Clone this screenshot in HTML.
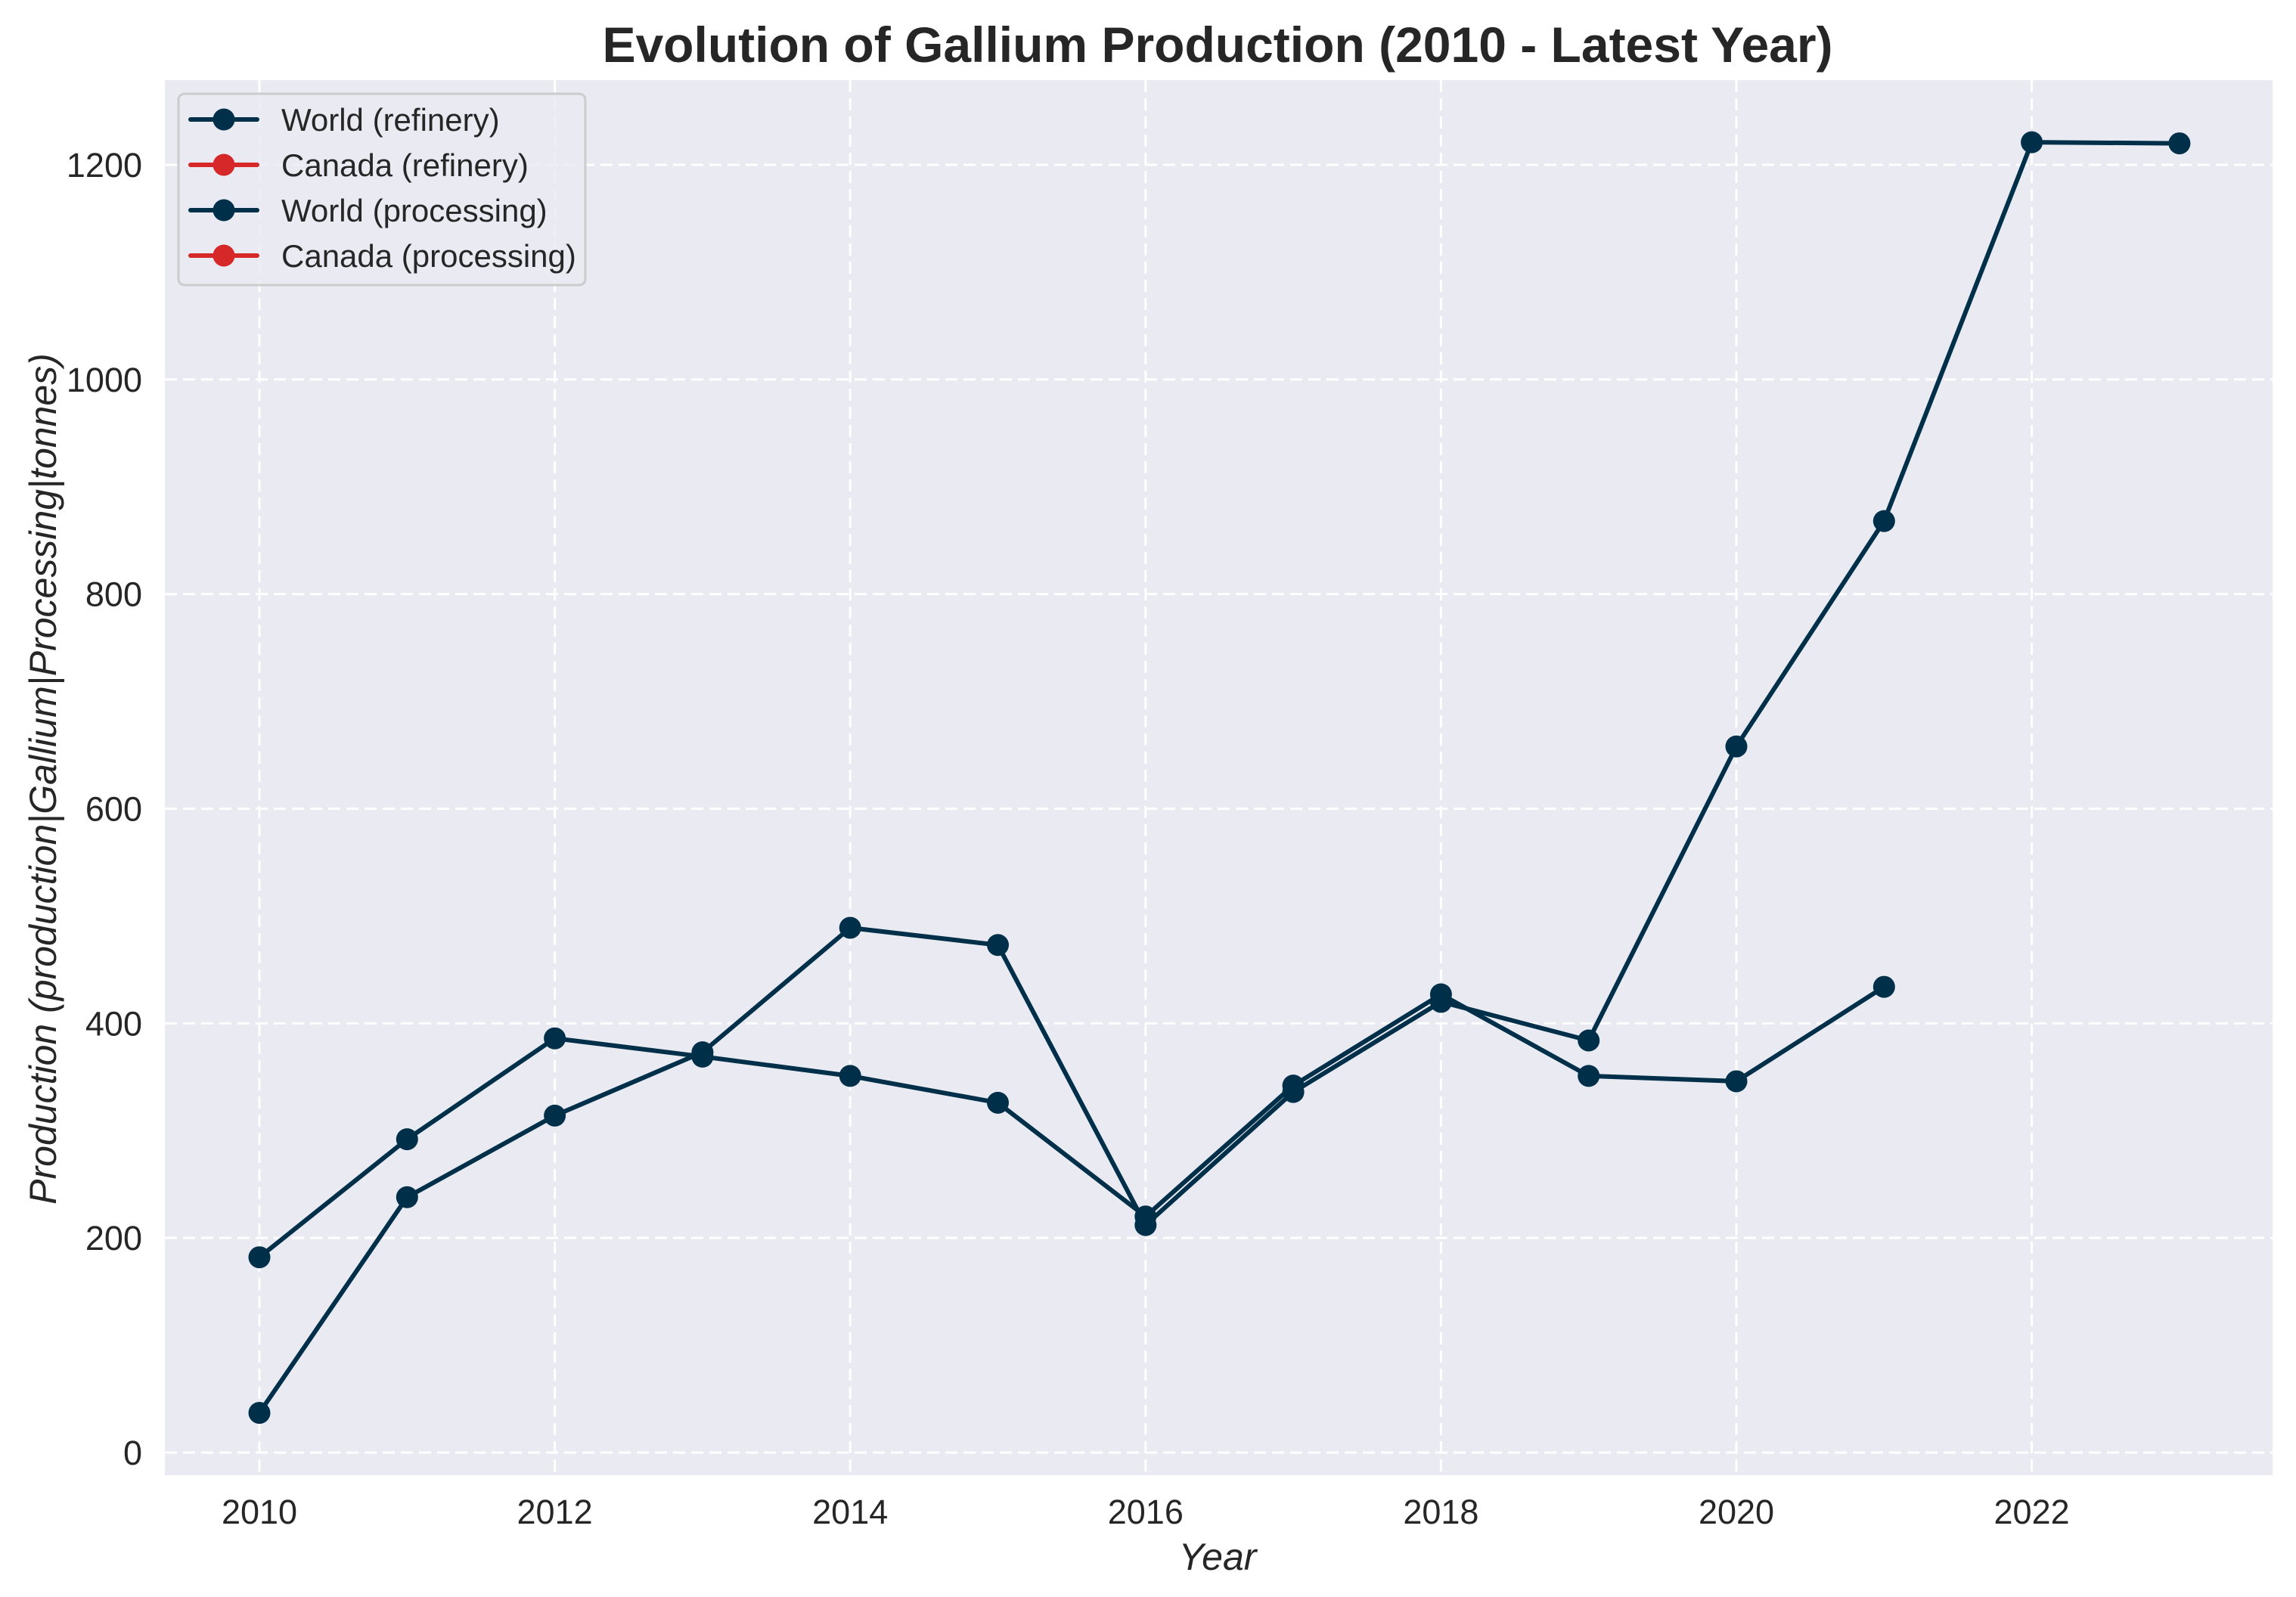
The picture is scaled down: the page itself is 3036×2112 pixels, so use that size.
<!DOCTYPE html>
<html><head><meta charset="utf-8"><style>
html,body{margin:0;padding:0;background:#fff;}
svg{display:block;font-family:"Liberation Sans",Arial,sans-serif;}
</style></head><body>
<svg id="chart" width="3036" height="2112" viewBox="0 0 3036 2112" xmlns="http://www.w3.org/2000/svg">
<rect x="0" y="0" width="3036" height="2112" fill="#fff"/>
<text x="1610" y="82" text-anchor="middle" font-size="66" font-weight="bold" fill="#262626">Evolution of Gallium Production (2010 - Latest Year)</text>
<rect x="218" y="106" width="2787" height="1845" fill="#eaeaf2"/>
<g id="grid"></g>
<g id="ticks"></g>
<g id="series"></g>
<text x="1610" y="2076" text-anchor="middle" font-size="50" font-style="italic" fill="#262626">Year</text>
<text transform="translate(74,1030) rotate(-90)" text-anchor="middle" font-size="50" font-style="italic" fill="#262626">Production (production|Gallium|Processing|tonnes)</text>
<g id="legend">
<rect x="236" y="124" width="538" height="253" rx="8" fill="#eaeaf2" fill-opacity="0.8" stroke="#cccccc" stroke-width="3"/>
</g>
</svg>
<script>
const years=[2010,2011,2012,2013,2014,2015,2016,2017,2018,2019,2020,2021,2022,2023];
const worldRefinery=[37,238,314,373,489,473,212,336,420,384,658,868,1221,1220];
const worldProcessing=[182,292,386,369,351,326,220,342,427,351,346,434];
const xTicks=[2010,2012,2014,2016,2018,2020,2022];
const yTicks=[0,200,400,600,800,1000,1200];
const legendLabels=["World (refinery)","Canada (refinery)","World (processing)","Canada (processing)"];
const legendColors=["#003049","#d62828","#003049","#d62828"];

const NS="http://www.w3.org/2000/svg";
const xs=y=>343+(y-2010)*195.3;
const ys=v=>1921-v*1.4192;
function mk(tag,attrs,parent){const e=document.createElementNS(NS,tag);for(const k in attrs)e.setAttribute(k,attrs[k]);parent.appendChild(e);return e;}
const grid=document.getElementById('grid'),ticks=document.getElementById('ticks'),ser=document.getElementById('series'),leg=document.getElementById('legend');
xTicks.forEach(t=>{
  const l=mk('line',{x1:xs(t),x2:xs(t),y1:106,y2:1951,stroke:'#fff','stroke-width':3,'stroke-dasharray':'16,8'},grid);
  
  
  const tx=mk('text',{x:xs(t),y:2015,'text-anchor':'middle','font-size':45,fill:'#262626'},ticks);
  tx.textContent=t;
  
  
});
yTicks.forEach(t=>{
  const l=mk('line',{x1:218,x2:3005,y1:ys(t),y2:ys(t),stroke:'#fff','stroke-width':3,'stroke-dasharray':'16,8'},grid);
  
  
  const tx=mk('text',{x:188,y:ys(t)+16,'text-anchor':'end','font-size':45,fill:'#262626'},ticks);
  tx.textContent=t;
  
  
});
function drawSeries(vals,name){
  const g=mk('g',{},ser);
  
  
  const pts=vals.map((v,i)=>xs(years[i])+','+ys(v)).join(' ');
  const pl=mk('polyline',{points:pts,fill:'none',stroke:'#003049','stroke-width':6,'stroke-linejoin':'round'},g);
  
  
  vals.forEach((v,i)=>{
    const c=mk('circle',{cx:xs(years[i]),cy:ys(v),r:14.5,fill:'#003049'},g);
    
    
  });
}
drawSeries(worldRefinery,'world-refinery');
drawSeries(worldProcessing,'world-processing');
legendLabels.forEach((lab,i)=>{
  const y=158+i*60;
  const g=mk('g',{},leg);
  
  
  mk('line',{x1:252,x2:340,y1:y,y2:y,stroke:legendColors[i],'stroke-width':6,'stroke-linecap':'round'},g);
  mk('circle',{cx:296,cy:y,r:14.5,fill:legendColors[i]},g);
  const t=mk('text',{x:372,y:y+15,'font-size':42,fill:'#262626'},g);
  t.textContent=lab;
});
</script>
</body></html>
